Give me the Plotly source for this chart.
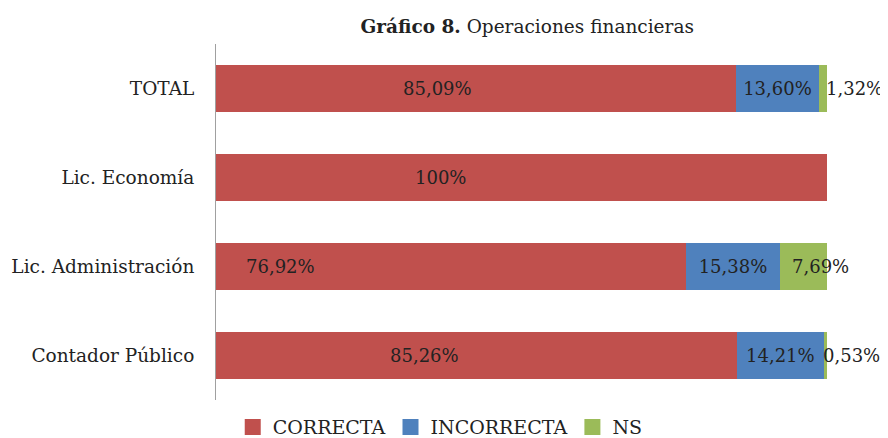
import plotly.graph_objects as go

categories = ["TOTAL", "Lic. Economía", "Lic. Administración", "Contador Público"]
correcta = [85.09, 100.0, 76.92, 85.26]
incorrecta = [13.60, 0.0, 15.38, 14.21]
ns = [1.32, 0.0, 7.69, 0.53]

correcta_lbl = ["85,09%", "100%", "76,92%", "85,26%"]
incorrecta_lbl = ["13,60%", "", "15,38%", "14,21%"]
ns_lbl = ["1,32%", "", "7,69%", "0,53%"]

# label anchor positions (axis units, %)
correcta_lbl_x = [36.2, 36.7, 10.5, 34.2]
ns_lbl_x = [104.5, 98.9, 104.0]

series_names = ["CORRECTA", "INCORRECTA", "NS"]
colors = ["#C0504D", "#4F81BD", "#9BBB59"]

FONT = "DejaVu Serif"
TXT = "#222222"
LBL = 18

fig = go.Figure()
fig.add_trace(go.Bar(y=categories, x=correcta, name="CORRECTA", orientation="h",
                     marker=dict(color=colors[0], line=dict(width=0)), showlegend=False))
fig.add_trace(go.Bar(y=categories, x=incorrecta, name="INCORRECTA", orientation="h",
                     marker=dict(color=colors[1], line=dict(width=0)),
                     text=incorrecta_lbl, textposition="inside", insidetextanchor="middle",
                     textfont=dict(family=FONT, size=LBL, color=TXT), showlegend=False))
fig.add_trace(go.Bar(y=categories, x=ns, name="NS", orientation="h",
                     marker=dict(color=colors[2], line=dict(width=0)), showlegend=False))

# legend entries (larger square swatches)
for nm, col in zip(series_names, colors):
    fig.add_trace(go.Scatter(x=[None], y=[None], mode="markers", name=nm,
                             marker=dict(symbol="square", size=20, color=col),
                             showlegend=True, hoverinfo="skip"))

for cat, lx, t in zip(categories, correcta_lbl_x, correcta_lbl):
    fig.add_annotation(x=lx / 100, y=cat, text=t, showarrow=False, xref="paper", yref="y",
                       xanchor="center", yanchor="middle",
                       font=dict(family=FONT, size=LBL, color=TXT))
ns_cats = [c for c, t in zip(categories, ns_lbl) if t]
ns_txt = [t for t in ns_lbl if t]
for cat, lx, t in zip(ns_cats, ns_lbl_x, ns_txt):
    fig.add_annotation(x=lx / 100, y=cat, text=t, showarrow=False, xref="paper", yref="y",
                       xanchor="center", yanchor="middle",
                       font=dict(family=FONT, size=LBL, color=TXT))

fig.update_layout(
    barmode="stack",
    bargap=0.48,
    width=880, height=430,
    margin=dict(l=208, r=61, t=36, b=38, autoexpand=False),
    paper_bgcolor="white", plot_bgcolor="white",
    font=dict(family=FONT, color=TXT),
    title=dict(text="<b>Gráfico 8.</b> Operaciones financieras", x=0.59, xanchor="center",
               y=0.956, yanchor="middle", font=dict(family=FONT, size=18.5, color=TXT)),
    legend=dict(orientation="h", x=0.367, xanchor="center", y=-0.076, yanchor="middle",
                font=dict(family=FONT, size=19, color=TXT), traceorder="normal",
                itemwidth=30, tracegroupgap=0),
    showlegend=True,
)
fig.update_xaxes(range=[0, 100], visible=False, fixedrange=True)
fig.update_yaxes(categoryorder="array", categoryarray=categories, autorange="reversed",
                 showline=True, linecolor="#A0A0A0", linewidth=1, ticks="",
                 ticklabelstandoff=17, tickfont=dict(family=FONT, size=18.5, color=TXT),
                 showgrid=False, automargin=False)

fig.write_html("out.html")
